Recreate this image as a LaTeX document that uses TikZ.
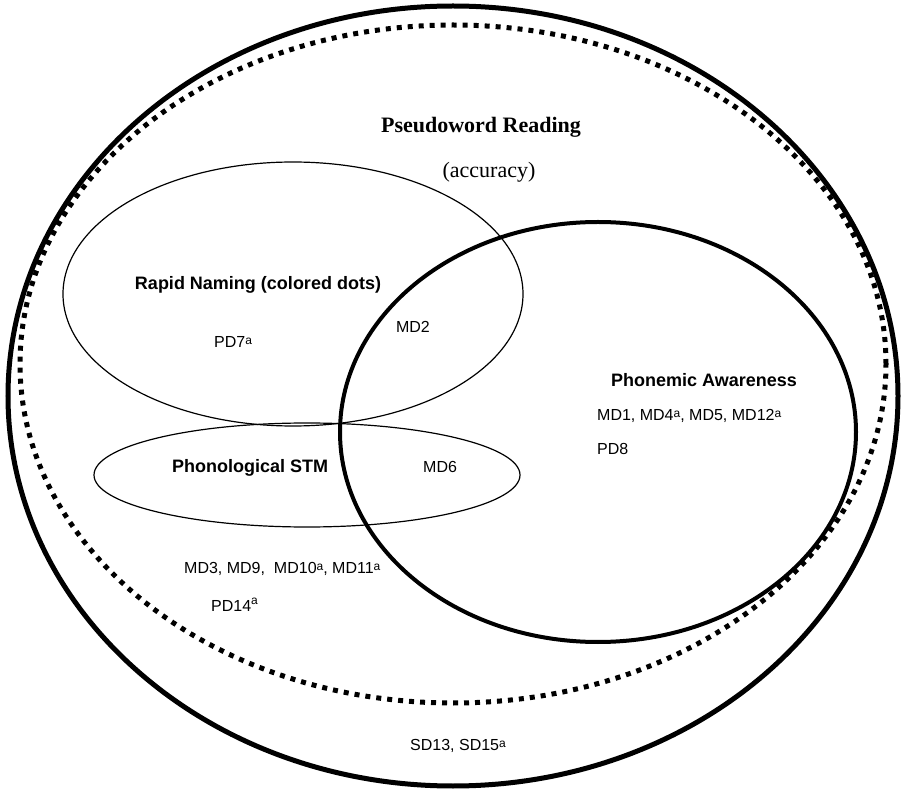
\documentclass[tikz,border=0pt]{standalone}
\usepackage{fontspec}
\setmainfont{Liberation Serif}
\setsansfont{Liberation Sans}
\newcommand\supa{\raisebox{3pt}{\fontsize{12}{12}\selectfont a}}
\newcommand\supb{\raisebox{8pt}{\fontsize{12}{12}\selectfont a}}
\begin{document}
\begin{tikzpicture}[x=1pt,y=-1pt,
  lbl/.style={inner sep=0pt, font=\sffamily\fontsize{16}{18}\selectfont},
  head/.style={inner sep=0pt, font=\sffamily\bfseries\fontsize{18}{20}\selectfont},
  serifhead/.style={inner sep=0pt, font=\rmfamily\bfseries\fontsize{22}{24}\selectfont},
  serif/.style={inner sep=0pt, font=\rmfamily\fontsize{22}{24}\selectfont},
  thinring/.style={line width=1.2pt},
  thickring/.style={line width=4pt},
  outerring/.style={line width=5pt},
  dotring/.style={line width=5pt, dash pattern=on 5pt off 6pt}
]
\useasboundingbox (0,0) rectangle (903,791);
\fill[white] (0,0) rectangle (903,791);
% outer solid and dotted sets
\draw[outerring] (453,396) ellipse [x radius=445pt, y radius=390pt];
\draw[dotring] (453,364) ellipse [x radius=433pt, y radius=339pt];
% inner sets
\draw[thinring] (293,294) ellipse [x radius=230pt, y radius=132pt];
\draw[thinring] (307,475) ellipse [x radius=213pt, y radius=52pt];
\draw[thickring] (598,432) ellipse [x radius=258pt, y radius=210pt];
% labels
\node[serifhead, anchor=base] (pr) at (481,133) {Pseudoword Reading};
\node[serif, anchor=base] (acc) at (489,178) {(accuracy)};
\node[head, anchor=base] (rn) at (258,290) {Rapid Naming (colored dots)};
\node[lbl, anchor=base west] (pd7) at (214,348) {PD7\supa};
\node[lbl, anchor=base] (md2) at (413,333) {MD2};
\node[head, anchor=base] (pa) at (704,387) {Phonemic Awareness};
\node[lbl, anchor=base west] (md1) at (597,421) {MD1, MD4\supa, MD5, MD12\supa};
\node[lbl, anchor=base west] (pd8) at (597,455) {PD8};
\node[head, anchor=base] (stm) at (250,473) {Phonological STM};
\node[lbl, anchor=base west] (md6) at (423,473) {MD6};
\node[lbl, anchor=base west] (md3) at (184,573) {MD3, MD9,\ \ MD10\supa, MD11\supa};
\node[lbl, anchor=base west] (pd14) at (211,612) {PD14\supb};
\node[lbl, anchor=base west] (sd) at (410,750) {SD13, SD15\supa};
\end{tikzpicture}
\end{document}
